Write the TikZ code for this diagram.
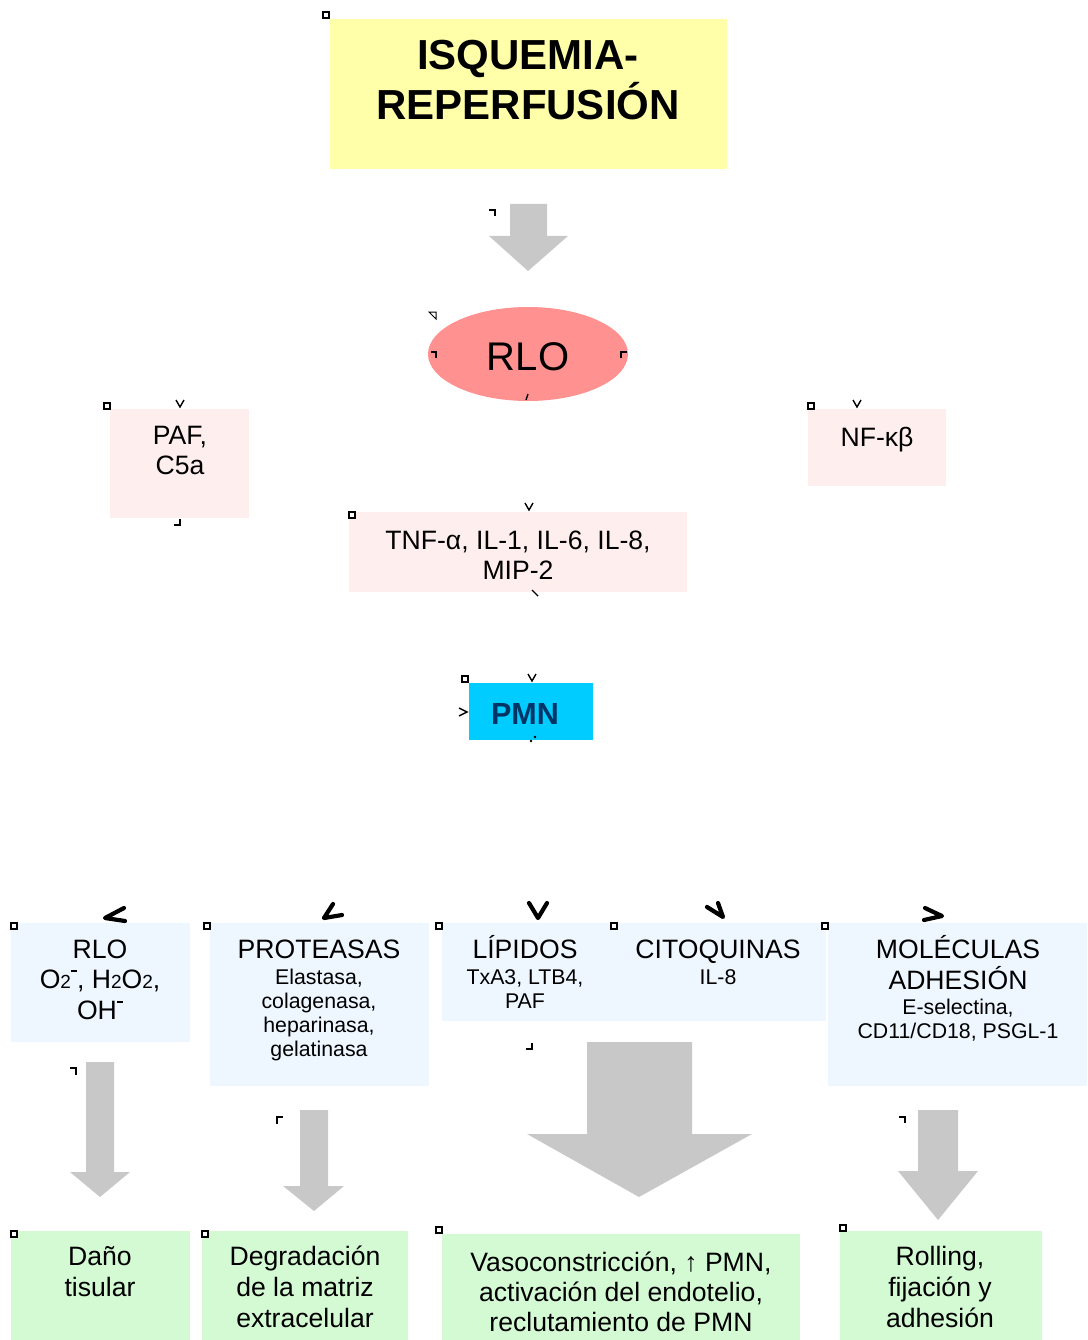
\documentclass[tikz,border=0pt]{standalone}
\usepackage{fontspec}
\setmainfont{Liberation Sans}
\usetikzlibrary{shapes.geometric}
\definecolor{ttl}{RGB}{255,255,170}
\definecolor{ell}{RGB}{255,145,145}
\definecolor{pnk}{RGB}{255,238,238}
\definecolor{cyn}{RGB}{0,204,255}
\definecolor{pmnt}{RGB}{0,51,102}
\definecolor{blu}{RGB}{238,246,255}
\definecolor{grn}{RGB}{212,250,212}
\definecolor{gry}{RGB}{200,200,200}
\newcommand{\sub}[1]{{\fontsize{19}{19}\selectfont #1}}
\newcommand{\smin}{\raisebox{0.62em}{\rule{6pt}{1.8pt}}}
\tikzset{
  boxbase/.style={anchor=north west, inner sep=0, draw=none},
  ttlbox/.style={boxbase, fill=ttl},
  pnkbox/.style={boxbase, fill=pnk},
  blubox/.style={boxbase, fill=blu},
  grnbox/.style={boxbase, fill=grn},
  lbl/.style={anchor=base, inner sep=0, font=\fontsize{26.6}{30}\selectfont},
  sml/.style={anchor=base, inner sep=0, font=\fontsize{21.3}{24}\selectfont},
  bigarrow/.style={fill=gry, draw=none},
  sqmark/.style={draw=black, fill=white, line width=1.2pt, minimum size=6pt, inner sep=0},
  tickmark/.style={draw=black, line width=1.4pt},
  chev/.style={draw=black, line width=4.2pt, line cap=round, line join=round}
}
\begin{document}
\begin{tikzpicture}[x=1pt,y=-1pt]
\useasboundingbox (0,0) rectangle (1087,1340);

% ---- boxes ----
\node[ttlbox, minimum width=397pt, minimum height=150pt] (title) at (330,19) {};
\node[ellipse, fill=ell, inner sep=0, minimum width=200pt, minimum height=94pt] (rloe) at (528,354) {};
\node[pnkbox, minimum width=139pt, minimum height=109pt] (paf) at (110,409) {};
\node[pnkbox, minimum width=138pt, minimum height=77pt] (nfkb) at (808,409) {};
\node[pnkbox, minimum width=338pt, minimum height=80pt] (tnf) at (349,512) {};
\node[boxbase, fill=cyn, minimum width=124pt, minimum height=57pt] (pmn) at (469,683) {};

\node[blubox, minimum width=179pt, minimum height=119pt] (b1) at (11,923) {};
\node[blubox, minimum width=219pt, minimum height=163pt] (b2) at (210,923) {};
\node[blubox, minimum width=384pt, minimum height=98pt] (b3) at (442,923) {};
\node[blubox, minimum width=259pt, minimum height=163pt] (b4) at (828,923) {};

\node[grnbox, minimum width=179pt, minimum height=109pt] (g1) at (11,1231) {};
\node[grnbox, minimum width=206pt, minimum height=109pt] (g2) at (202,1231) {};
\node[grnbox, minimum width=358pt, minimum height=106pt] (g3) at (442,1234) {};
\node[grnbox, minimum width=202pt, minimum height=109pt] (g4) at (840,1231) {};

% ---- gray block arrows ----
\fill[bigarrow] (510,204) -- (547,204) -- (547,236) -- (568,236) -- (528,271) -- (489,236) -- (510,236) -- cycle;
\fill[bigarrow] (86,1062) -- (114,1062) -- (114,1172) -- (130,1172) -- (100,1197) -- (70,1172) -- (86,1172) -- cycle;
\fill[bigarrow] (300,1110) -- (328,1110) -- (328,1186) -- (344,1186) -- (314,1211) -- (283,1186) -- (300,1186) -- cycle;
\fill[bigarrow] (587,1042) -- (692,1042) -- (692,1134) -- (752,1134) -- (639,1197) -- (527,1134) -- (587,1134) -- cycle;
\fill[bigarrow] (918,1110) -- (958,1110) -- (958,1171) -- (978,1171) -- (938,1220) -- (898,1171) -- (918,1171) -- cycle;

% ---- texts ----
\node[anchor=base, inner sep=0, font=\fontsize{42}{50}\selectfont\bfseries] (t1) at (528,70) {ISQUEMIA-};
\node[anchor=base, inner sep=0, font=\fontsize{42}{50}\selectfont\bfseries] (t2) at (528,120) {REPERFUSIÓN};
\node[anchor=base, inner sep=0, font=\fontsize{40}{46}\selectfont] (rlot) at (528,370) {RLO};
\node[lbl] (paf1) at (180,444) {PAF,};
\node[lbl] (paf2) at (180,474) {C5a};
\node[lbl] (nf1) at (877,446) {NF-κβ};
\node[lbl] (tnf1) at (518,549) {TNF-α, IL-1, IL-6, IL-8,};
\node[lbl] (tnf2) at (518,579) {MIP-2};
\node[anchor=base, inner sep=0, font=\fontsize{30.5}{34}\selectfont\bfseries, text=pmnt] (pmnt) at (525,724) {PMN};

\node[lbl] (b1a) at (100,958) {RLO};
\node[lbl] (b1b) at (100,988) {O\sub{2}\smin, H\sub{2}O\sub{2},};
\node[lbl] (b1c) at (100,1019) {OH\smin};

\node[lbl] (b2a) at (319,958) {PROTEASAS};
\node[sml] (b2b) at (319,984) {Elastasa,};
\node[sml] (b2c) at (319,1008) {colagenasa,};
\node[sml] (b2d) at (319,1032) {heparinasa,};
\node[sml] (b2e) at (319,1056) {gelatinasa};

\node[lbl] (b3a) at (525,958) {LÍPIDOS};
\node[sml] (b3b) at (525,984) {TxA3, LTB4,};
\node[sml] (b3c) at (525,1008) {PAF};
\node[lbl] (b3d) at (718,958) {CITOQUINAS};
\node[sml] (b3e) at (718,984) {IL-8};

\node[lbl] (b4a) at (958,958) {MOLÉCULAS};
\node[lbl] (b4b) at (958,989) {ADHESIÓN};
\node[sml] (b4c) at (958,1014) {E-selectina,};
\node[sml] (b4d) at (958,1038) {CD11/CD18, PSGL-1};

\node[lbl] (g1a) at (100,1265) {Daño};
\node[lbl] (g1b) at (100,1296) {tisular};
\node[lbl] (g2a) at (305,1265) {Degradación};
\node[lbl] (g2b) at (305,1296) {de la matriz};
\node[lbl] (g2c) at (305,1327) {extracelular};
\node[lbl] (g3a) at (621,1271) {Vasoconstricción, ↑ PMN,};
\node[lbl] (g3b) at (621,1301) {activación del endotelio,};
\node[lbl] (g3c) at (621,1331) {reclutamiento de PMN};
\node[lbl] (g4a) at (940,1265) {Rolling,};
\node[lbl] (g4b) at (940,1296) {fijación y};
\node[lbl] (g4c) at (940,1327) {adhesión};

% ---- small square markers ----
\foreach \p in {(326,15),(107,406),(811,406),(352,515),(465,679),(14,926),(207,926),(439,926),(614,926),(825,926),(14,1234),(205,1234),(439,1230),(843,1228)}
  \node[sqmark] at \p {};

% ---- chevrons above bottom boxes ----
\draw[chev] (124,908) -- (105,918) -- (125,921);
\draw[chev] (333,904) -- (324,918) -- (342,915);
\draw[chev] (529,903) -- (538,918) -- (547,903);
\draw[chev] (707,907) -- (723,917) -- (718,903);
\draw[chev] (925,908) -- (942,916) -- (924,920);

% ---- small tick marks ----
\draw[tickmark] (489,210) -- (495,210) -- (495,216);
\draw[tickmark, line width=1pt] (429,312) -- (436,312) -- (436,319) -- cycle;
\draw[tickmark] (431,352) -- (436,352) -- (436,358);
\draw[tickmark] (621,358) -- (621,352) -- (627,352);
\draw[tickmark] (526,400) -- (528,394);
\draw[tickmark] (176,400) -- (180,407) -- (184,400);
\draw[tickmark] (174,525) -- (180,525) -- (180,519);
\draw[tickmark] (853,400) -- (857,407) -- (861,400);
\draw[tickmark] (525,503) -- (529,510) -- (533,503);
\draw[tickmark] (532,590) -- (538,596);
\draw[tickmark] (528,674) -- (532,681) -- (536,674);
\draw[tickmark] (459,708) -- (467,712) -- (459,716);
\fill (531,741) circle (1.3pt) (535,737) circle (1.3pt);
\draw[tickmark] (70,1068) -- (76,1068) -- (76,1075);
\draw[tickmark] (277,1124) -- (277,1117) -- (283,1117);
\draw[tickmark] (526,1049) -- (532,1049) -- (532,1043);
\draw[tickmark] (899,1117) -- (905,1117) -- (905,1123);
\end{tikzpicture}
\end{document}
